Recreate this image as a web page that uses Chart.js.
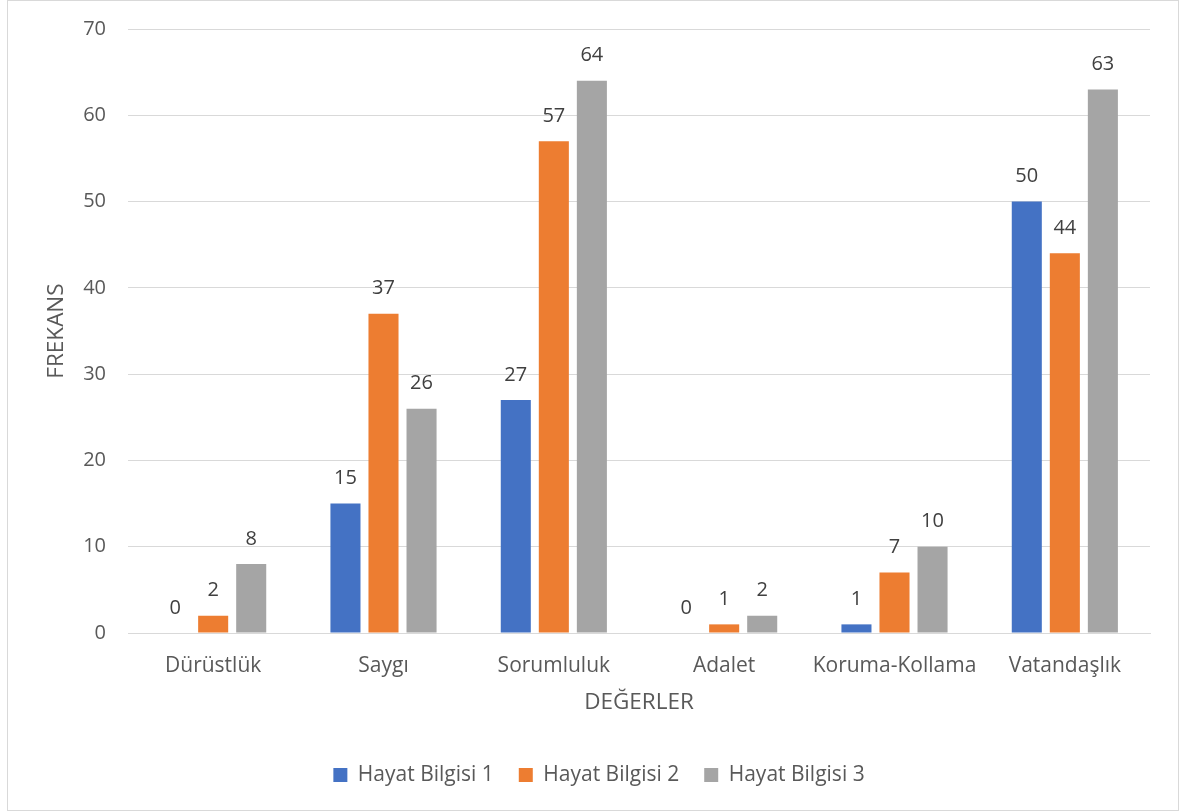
<!DOCTYPE html>
<html>
<head>
<meta charset="utf-8">
<script src="https://cdn.jsdelivr.net/npm/chart.js@4.4.1/dist/chart.umd.min.js"></script>
<style>
	body { margin: 0; background: #fff; }
	#frame { position: absolute; left: 7px; top: 0px; width: 1170px; height: 809px; border: 1px solid #d9d9d9; }
	#wrap { position: absolute; left: 0; top: 0; width: 1180px; height: 812px; }
	canvas { display: block; }
</style>
</head>
<body>
<div id="frame"></div>
<div id="wrap"><canvas id="barChart" width="1180" height="812"></canvas></div>
<script>
var categories = ['Dürüstlük', 'Saygı', 'Sorumluluk', 'Adalet', 'Koruma-Kollama', 'Vatandaşlık'];
var seriesNames = ['Hayat Bilgisi 1', 'Hayat Bilgisi 2', 'Hayat Bilgisi 3'];
var hayat1 = [0, 15, 27, 0, 1, 50];
var hayat2 = [2, 37, 57, 1, 7, 44];
var hayat3 = [8, 26, 64, 2, 10, 63];
var yTicks = [0, 10, 20, 30, 40, 50, 60, 70];

var fontFamily = '"Open Sans", "Noto Sans", sans-serif';

// draw the value above every bar
var valueLabels = {
	id: 'valueLabels',
	afterDatasetsDraw: function(chart) {
		var ctx = chart.ctx;
		ctx.save();
		ctx.font = '20px ' + fontFamily;
		ctx.fillStyle = '#404040';
		ctx.textAlign = 'center';
		ctx.textBaseline = 'middle';
		chart.data.datasets.forEach(function(ds, i) {
			chart.getDatasetMeta(i).data.forEach(function(bar, j) {
				ctx.fillText(String(ds.data[j]), bar.x, bar.y - 25);
			});
		});
		ctx.restore();
	}
};

// the legend is centred on the whole frame, not on the plot
var legendShift = {
	id: 'legendShift',
	afterLayout: function(chart) {
		chart.legend.left += 24;
		chart.legend.right += 24;
	}
};

function makeSet(i, values, color) {
	return {
		label: seriesNames[i],
		data: values,
		backgroundColor: color,
		categoryPercentage: 0.67,
		barPercentage: 0.79
	};
}

var barChart = new Chart(document.getElementById('barChart'), {
	type: 'bar',
	data: {
		labels: categories,
		datasets: [
			makeSet(0, hayat1, '#4472c4'),
			makeSet(1, hayat2, '#ed7d31'),
			makeSet(2, hayat3, '#a5a5a5')
		]
	},
	options: {
		responsive: false,
		animation: false,
		layout: { padding: { left: 0, right: 30, top: 29, bottom: 16.5 } },
		plugins: {
			tooltip: { enabled: false },
			legend: {
				position: 'bottom',
				labels: {
					boxWidth: 14,
					boxHeight: 14,
					padding: 25,
					color: '#595959',
					font: { family: fontFamily, size: 21 }
				}
			}
		},
		scales: {
			x: {
				grid: { display: false },
				border: { color: '#d9d9d9' },
				ticks: { color: '#595959', padding: 12, font: { family: fontFamily, size: 21 } },
				title: {
					display: true,
					text: 'DEĞERLER',
					color: '#595959',
					font: { family: fontFamily, size: 22.5 },
					padding: { top: 0, bottom: 23 }
				},
				afterFit: function(s) { s.height = 106.5; }
			},
			y: {
				min: 0,
				max: 70,
				afterBuildTicks: function(s) { s.ticks = yTicks.map(function(v) { return { value: v }; }); },
				grid: { color: '#d9d9d9', drawTicks: true, tickLength: 22, tickColor: 'rgba(0,0,0,0)' },
				border: { display: false },
				ticks: { color: '#595959', padding: 0, font: { family: fontFamily, size: 20 } },
				title: {
					display: true,
					text: 'FREKANS',
					color: '#595959',
					font: { family: fontFamily, size: 22.5 },
					padding: { top: 43, bottom: 0 }
				},
				afterFit: function(s) { s.width = 128; }
			}
		}
	},
	plugins: [valueLabels, legendShift]
});
</script>
</body>
</html>
